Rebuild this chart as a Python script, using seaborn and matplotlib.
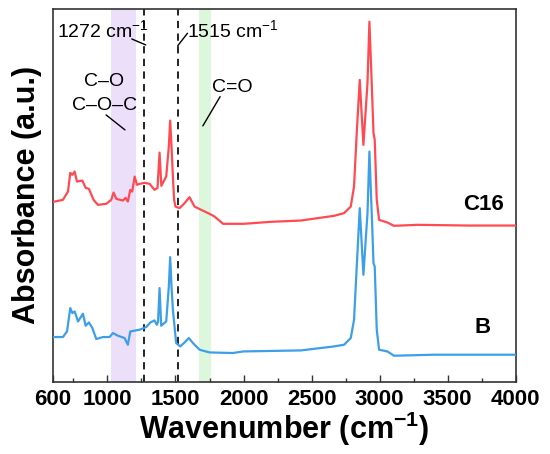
import numpy as np
import pandas as pd
import matplotlib
matplotlib.use("Agg")
import matplotlib.pyplot as plt
import seaborn as sns

# ---- data (absorbance in arbitrary units) ----
c16_wn = [600, 612, 673, 710, 727, 742, 759, 776, 815, 840, 864, 898, 930, 991,
          1028, 1045, 1065, 1114, 1133, 1150, 1168, 1182, 1200, 1217, 1236, 1273,
          1310, 1346, 1368, 1383, 1396, 1432, 1451, 1461, 1471, 1481, 1490, 1500,
          1530, 1567, 1603, 1640, 1689, 1750, 1787, 1850, 2000, 2200, 2421, 2665,
          2739, 2788, 2812, 2832, 2854, 2881, 2911, 2925, 2942, 2955, 2964, 2979,
          2996, 3057, 3106, 3278, 3645, 4000]
c16_abs = [1.800, 1.803, 1.820, 1.903, 2.090, 2.070, 2.103, 2.003, 2.013, 1.940,
           1.930, 1.820, 1.770, 1.780, 1.820, 1.893, 1.830, 1.813, 1.840, 1.803,
           1.920, 1.903, 2.053, 1.970, 1.980, 1.990, 1.980, 1.920, 1.940, 2.293,
           1.960, 2.053, 2.353, 2.613, 2.353, 2.053, 1.820, 1.753, 1.737, 1.787,
           1.847, 1.753, 1.720, 1.680, 1.653, 1.580, 1.580, 1.600, 1.613, 1.660,
           1.687, 1.753, 1.953, 2.490, 3.020, 2.370, 2.990, 3.603, 2.990, 2.490,
           2.420, 1.820, 1.620, 1.593, 1.560, 1.570, 1.563, 1.563]

b_wn = [600, 612, 673, 703, 727, 742, 759, 784, 820, 840, 864, 889, 918, 967,
        1016, 1040, 1077, 1126, 1150, 1168, 1236, 1285, 1315, 1346, 1363, 1372,
        1383, 1395, 1432, 1451, 1461, 1471, 1481, 1505, 1535, 1567, 1598, 1628,
        1677, 1750, 1921, 2000, 2421, 2665, 2739, 2788, 2812, 2832, 2854, 2881,
        2911, 2925, 2942, 2955, 2964, 2979, 2996, 3057, 3106, 3400, 4000]
b_abs = [0.447, 0.447, 0.447, 0.503, 0.737, 0.687, 0.703, 0.603, 0.680, 0.560,
         0.593, 0.537, 0.427, 0.447, 0.447, 0.487, 0.460, 0.437, 0.370, 0.503,
         0.520, 0.547, 0.593, 0.613, 0.570, 0.600, 0.937, 0.560, 0.603, 0.950,
         1.247, 0.950, 0.720, 0.387, 0.353, 0.393, 0.437, 0.387, 0.320, 0.293,
         0.287, 0.303, 0.313, 0.353, 0.370, 0.437, 0.620, 1.153, 1.737, 1.070,
         1.687, 2.303, 1.690, 1.187, 1.153, 0.520, 0.320, 0.303, 0.260, 0.270,
         0.270]

series_names = ["C16", "B"]
series_colors = ["#ff4a52", "#3d9fe8"]
dashed_lines = [1272, 1515]
bands = [(1024, 1208, "#ecdffa"), (1674, 1760, "#dcf7dc")]
major_ticks = [600, 1000, 1500, 2000, 2500, 3000, 3500, 4000]
minor_ticks = [750, 1250, 1750, 2250, 2750, 3250, 3750]

sns.set_style("ticks")
plt.rcParams["font.family"] = ["Liberation Sans", "DejaVu Sans"]
plt.rcParams["mathtext.fontset"] = "custom"
plt.rcParams["mathtext.rm"] = "Liberation Sans"
plt.rcParams["mathtext.bf"] = "Liberation Sans:bold"
plt.rcParams["mathtext.default"] = "regular"
plt.rcParams["text.color"] = "black"
plt.rcParams["axes.labelcolor"] = "black"
plt.rcParams["xtick.color"] = "black"
plt.rcParams["xtick.labelcolor"] = "black"

fig = plt.figure(figsize=(5.5, 4.54), dpi=100)
ax = fig.add_axes([53 / 550, (454 - 381.7) / 454, (515.7 - 53) / 550, (381.7 - 9) / 454])

for lo, hi, col in bands:
    ax.axvspan(lo, hi, color=col, lw=0, zorder=0)

df_c16 = pd.DataFrame({"Wavenumber": c16_wn, "Absorbance": c16_abs})
df_b = pd.DataFrame({"Wavenumber": b_wn, "Absorbance": b_abs})
sns.lineplot(data=df_c16, x="Wavenumber", y="Absorbance", ax=ax, color=series_colors[0],
             lw=1.6, sort=False, zorder=3)
sns.lineplot(data=df_b, x="Wavenumber", y="Absorbance", ax=ax, color=series_colors[1],
             lw=1.6, sort=False, zorder=3)

for xv in dashed_lines:
    ax.axvline(xv, color="#111111", lw=1.3, ls=(0, (4, 3)), zorder=2)

ax.set_xlim(600, 4000)
ax.set_ylim(0, 3.73)
ax.set_yticks([])
ax.set_xticks(major_ticks)
ax.set_xticks(minor_ticks, minor=True)
ax.set_xticklabels([str(t) for t in major_ticks], fontsize=16, fontweight="bold",
                   color="black")
ax.tick_params(axis="x", which="major", direction="in", length=5, width=1, pad=5,
               color="#333333")
ax.tick_params(axis="x", which="minor", direction="in", length=3, width=1,
               color="#333333")
for sp in ax.spines.values():
    sp.set_visible(True)
    sp.set_color("#333333")
    sp.set_linewidth(1.2)

ax.set_xlabel(r"Wavenumber (cm$^{\mathbf{-1}}$)", fontsize=22, fontweight="bold",
              labelpad=0, color="black")
ax.set_ylabel("Absorbance (a.u.)", fontsize=22, fontweight="bold", labelpad=8,
              color="black")

# annotations
ax.text(629, 3.52, r"1272 cm$^{-1}$", fontsize=14, ha="left", va="center", color="black")
ax.plot([1179, 1282], [3.43, 3.37], color="black", lw=1)
ax.text(1583, 3.52, r"1515 cm$^{-1}$", fontsize=14, ha="left", va="center", color="black")
ax.plot([1517, 1588], [3.363, 3.487], color="black", lw=1)
ax.text(975, 3.003, "C–O", fontsize=14, ha="center", va="center", color="black")
ax.text(982, 2.76, "C–O–C", fontsize=14, ha="center", va="center", color="black")
ax.plot([990, 1129], [2.67, 2.52], color="black", lw=1)
ax.text(1914, 2.94, "C=O", fontsize=14, ha="center", va="center", color="black")
ax.plot([1828, 1701], [2.853, 2.56], color="black", lw=1)

ax.text(3762, 1.77, series_names[0], fontsize=16, fontweight="bold", ha="center",
        va="center", color="black")
ax.text(3760, 0.54, series_names[1], fontsize=16, fontweight="bold", ha="center",
        va="center", color="black")

fig.savefig("out.png", dpi=100)
